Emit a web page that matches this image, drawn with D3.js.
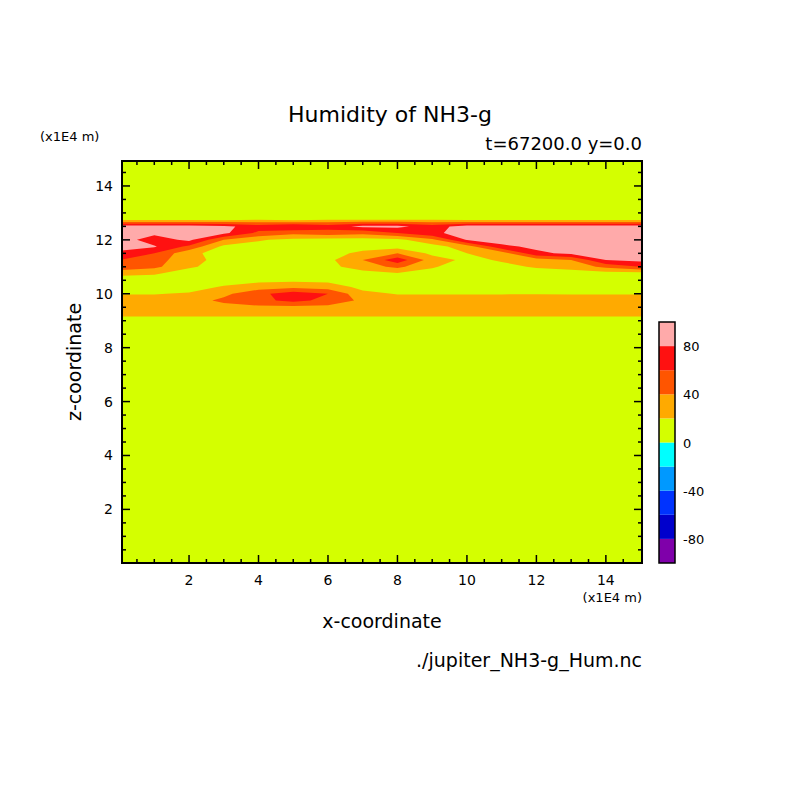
<!DOCTYPE html>
<html><head><meta charset="utf-8">
<script src="https://cdn.jsdelivr.net/npm/d3@7"></script>
<style>body{margin:0;background:#fff}text{font-family:"DejaVu Sans",sans-serif;fill:#000}</style>
</head><body><svg id="chart" width="804" height="804"></svg>
<script>
// grid columns: x = 0..15 (x1E4 m)
const xCols = d3.range(0, 16);
// grid rows: z (x1E4 m), bottom to top
const zRows = [8.5, 8.75, 9.0, 9.25, 9.5, 9.75, 10.0, 10.25, 10.5, 10.75, 11.0, 11.25, 11.5, 11.75, 12.0, 12.25, 12.5, 12.75, 13.0];
// humidity (%) per row
const humRows = [
  [5,5,5,5,5,5,5,5,5,5,5,5,5,5,5,5],
  [8,8,8,8,8,8,8,8,8,8,8,8,8,8,8,8],
  [12,12,12,12,12,12,12,12,12,12,12,12,12,12,12,12],
  [25,25,25,25,25,25,25,25,25,25,25,25,25,25,25,25],
  [30,30,30,32,35,35,34,32,30,30,30,30,31,30,30,30],
  [28,28,30,45,55,65,55,35,30,30,30,30,32,30,28,28],
  [19,19,22,35,55,70,60,25,19,19,19,19,19,19,19,19],
  [10,10,12,22,30,35,30,15,10,10,10,10,10,10,10,10],
  [10,10,10,12,15,16,15,10,10,10,10,10,10,10,10,10],
  [25,22,12,10,10,10,10,12,18,12,10,10,10,10,10,10],
  [55,45,22,14,14,14,14,30,45,22,10,15,22,28,45,60],
  [60,50,25,15,15,15,15,40,72,30,15,22,30,40,80,85],
  [75,60,25,12,12,12,12,25,40,15,20,30,75,85,88,90],
  [88,82,55,15,12,12,12,12,12,12,30,75,85,90,90,90],
  [90,70,85,40,22,15,12,12,15,35,82,90,90,90,90,90],
  [90,85,90,85,55,45,50,45,60,75,90,90,90,90,90,90],
  [90,90,90,85,70,80,70,85,85,70,90,90,90,90,90,90],
  [15,15,15,15,20,15,20,20,20,20,15,15,15,15,15,15],
  [5,5,5,5,5,5,5,5,5,5,5,5,5,5,5,5]
];
const levels = [-100, -80, -60, -40, -20, 0, 20, 40, 60, 80, 100];
const bandColors = ["#7f00aa", "#0000cc", "#0033ff", "#0099ff", "#00ffff", "#d4ff00", "#ffaa00", "#ff5500", "#ff1111", "#ffaaaa"];
const tickVals = [2, 4, 6, 8, 10, 12, 14];
const cbLabels = [-80, -40, 0, 40, 80];

const svg = d3.select('#chart');
const L = 122, R = 642, T = 161, B = 563;
const x = d3.scaleLinear().domain([0.07, 15.04]).range([L, R]);
const z = d3.scaleLinear().domain([0, 15]).range([B + 0.3, 159]);

svg.append('clipPath').attr('id', 'clip').append('rect')
    .attr('x', L).attr('y', T).attr('width', R - L).attr('height', B - T);

const plot = svg.append('g').attr('clip-path', 'url(#clip)');
plot.append('rect').attr('x', L).attr('y', T).attr('width', R - L).attr('height', B - T)
    .attr('fill', bandColors[5]);

const nx = xCols.length, ny = zRows.length;
const values = [];
humRows.forEach(r => r.forEach(v => values.push(v)));
const dz = zRows[1] - zRows[0];
const contours = d3.contours().size([nx, ny]).smooth(true).thresholds(levels.slice(5, 10))(values);
const proj = d3.geoTransform({
    point: function (gx, gy) {
        this.stream.point(x(xCols[0] + gx - 0.5), z(zRows[0] + (gy - 0.5) * dz));
    }
});
plot.selectAll('path.band').data(contours)
    .join('path')
    .attr('class', 'band')
    .attr('d', d3.geoPath(proj))
    .attr('fill', d => bandColors[levels.indexOf(d.value)]);

// frame and ticks
svg.append('rect').attr('x', L).attr('y', T).attr('width', R - L).attr('height', B - T)
    .attr('fill', 'none').attr('stroke', '#000').attr('stroke-width', 2);
const minor = d3.range(0.5, 15, 0.5);
const tk = svg.append('g').attr('stroke', '#000').attr('stroke-width', 1.5);
minor.forEach(v => {
    const len = v % 2 === 0 ? 8 : 4;
    const px = x(v), py = z(v);
    tk.append('line').attr('x1', px).attr('x2', px).attr('y1', B).attr('y2', B - len);
    tk.append('line').attr('x1', px).attr('x2', px).attr('y1', T).attr('y2', T + len);
    tk.append('line').attr('y1', py).attr('y2', py).attr('x1', L).attr('x2', L + len);
    tk.append('line').attr('y1', py).attr('y2', py).attr('x1', R).attr('x2', R - len);
});
svg.append('g').selectAll('text').data(tickVals).join('text')
    .attr('x', d => x(d)).attr('y', B + 22).attr('text-anchor', 'middle')
    .attr('font-size', 14).text(d => d);
svg.append('g').selectAll('text').data(tickVals).join('text')
    .attr('x', 113).attr('y', d => z(d) + 5).attr('text-anchor', 'end')
    .attr('font-size', 14).text(d => d);

svg.append('text').attr('x', 390).attr('y', 122).attr('text-anchor', 'middle')
    .attr('font-size', 22).text('Humidity of NH3-g');
svg.append('text').attr('x', 642).attr('y', 150).attr('text-anchor', 'end')
    .attr('font-size', 18).text('t=67200.0 y=0.0');
svg.append('text').attr('x', 40).attr('y', 141).attr('font-size', 13).text('(x1E4 m)');
svg.append('text').attr('x', 642).attr('y', 602).attr('text-anchor', 'end')
    .attr('font-size', 13).text('(x1E4 m)');
svg.append('text').attr('x', 382).attr('y', 628).attr('text-anchor', 'middle')
    .attr('font-size', 19).text('x-coordinate');
svg.append('text').attr('transform', 'translate(81,362) rotate(-90)').attr('text-anchor', 'middle')
    .attr('font-size', 19).text('z-coordinate');
svg.append('text').attr('x', 642).attr('y', 667).attr('text-anchor', 'end')
    .attr('font-size', 19).text('./jupiter_NH3-g_Hum.nc');

// colour bar
const cb = d3.scaleLinear().domain([-100, 100]).range([563, 322]);
svg.append('g').selectAll('rect').data(bandColors).join('rect')
    .attr('x', 659).attr('width', 16)
    .attr('y', (d, i) => cb(levels[i + 1])).attr('height', (d, i) => cb(levels[i]) - cb(levels[i + 1]))
    .attr('fill', d => d);
svg.append('rect').attr('x', 659).attr('y', 322).attr('width', 16).attr('height', 241)
    .attr('fill', 'none').attr('stroke', '#000').attr('stroke-width', 1.5);
svg.append('g').selectAll('text').data(cbLabels).join('text')
    .attr('x', 683).attr('y', d => cb(d) + 5).attr('font-size', 13).text(d => d);
</script></body></html>
